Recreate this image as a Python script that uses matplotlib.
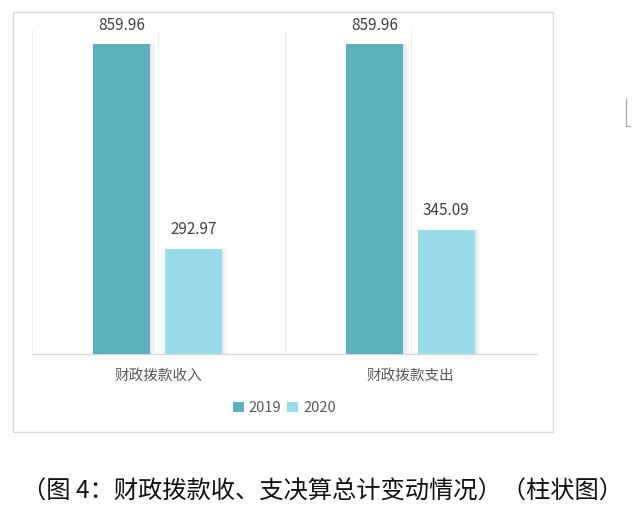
import matplotlib
matplotlib.use("Agg")
import matplotlib.pyplot as plt
from matplotlib.patches import Rectangle
from matplotlib.lines import Line2D
import numpy as np

plt.rcParams['font.family'] = ['Noto Sans CJK SC', 'DejaVu Sans']

categories = ['财政拨款收入', '财政拨款支出']
series_names = ['2019', '2020']
values_2019 = [859.96, 859.96]
values_2020 = [292.97, 345.09]
colors = ['#5FB0BE', '#9ADBEB']
caption = '（图 4：财政拨款收、支决算总计变动情况）（柱状图）'

W, H = 633, 511
fig = plt.figure(figsize=(W / 100, H / 100), dpi=100)

# outer chart frame
fig.patches.append(Rectangle((13 / W, 1 - 432 / H), 540 / W, 420 / H,
                             transform=fig.transFigure, fill=False,
                             edgecolor='#D9D9D9', linewidth=1.0))
# small mark at right edge
fig.add_artist(Line2D([626 / W, 626 / W, 630 / W], [1 - 99 / H, 1 - 126 / H, 1 - 126 / H],
                      transform=fig.transFigure, color='#AAAAAA', linewidth=0.9))

ax = fig.add_axes([32 / W, 1 - 354 / H, 505 / W, 324 / H])
x = np.arange(len(categories))
bw = 0.226
offsets = [-0.1446, 0.141]
all_vals = [values_2019, values_2020]

px = 1 / 252.5
for s, (vals, off, col) in enumerate(zip(all_vals, offsets, colors)):
    # soft shadow on the right side
    for k in range(6):
        ax.bar(x + off + bw / 2 + (k + 0.5) * px, vals, width=px, color='#7FA8B5',
               alpha=0.22 * (1 - k / 6), zorder=2, linewidth=0)
    ax.bar(x + off, vals, width=bw, color=col, zorder=3, linewidth=0,
           label=series_names[s])
    for xi, v in zip(x, vals):
        ax.annotate(f'{v:.2f}', (xi + off, v), xytext=(0, 19), textcoords='offset pixels',
                    ha='center', va='center', fontsize=11, color='#404040')

ax.set_xlim(-0.5, 1.5)
ax.set_ylim(0, 900)
for gx in [-0.5, 0, 0.5, 1, 1.5]:
    ax.axvline(gx, color='#EEEEEE', linewidth=0.8, zorder=1)
for sp in ['top', 'right', 'left']:
    ax.spines[sp].set_visible(False)
ax.spines['bottom'].set_color('#D9D9D9')
ax.spines['bottom'].set_linewidth(1.0)
ax.set_yticks([])
ax.set_xticks(x)
ax.set_xticklabels(categories, fontsize=10.5, color='#595959')
ax.tick_params(axis='x', length=0, pad=11)

handles, labels = ax.get_legend_handles_labels()
leg = fig.legend(handles, labels, loc='center', bbox_to_anchor=(284.5 / W, 1 - 408 / H),
                 ncol=2, frameon=False, fontsize=10.5, handlelength=0.75, handleheight=0.75,
                 handletextpad=0.35, columnspacing=0.4)
for t in leg.get_texts():
    t.set_color('#595959')

fig.text(323 / W, 1 - 492 / H, caption, ha='center', va='center', fontsize=17.5,
         color='#111111')

fig.savefig('out.png', dpi=100)
